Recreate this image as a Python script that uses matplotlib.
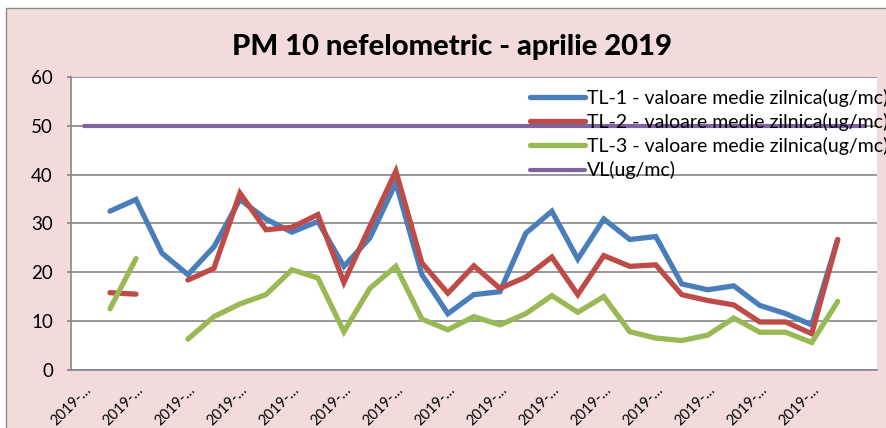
"""PM 10 nefelometric - aprilie 2019: daily means for three stations vs. limit value."""

import matplotlib

matplotlib.use("Agg")
import matplotlib.pyplot as plt
import numpy as np
from matplotlib.patches import Rectangle

nan = np.nan

# 31 categories, Excel shows every other label truncated to "2019-…"
categories = ["2019-…"] * 31
tick_positions = [0, 2, 4, 6, 8, 10, 12, 14, 16, 18, 20, 22, 24, 26, 28]

tl1 = [nan, 32.5, 34.9, 23.9, 19.5, 25.2, 34.9, 30.9, 28.2, 30.4, 21.2, 27.0, 38.3, 19.5, 11.5,
       15.4, 16.0, 28.0, 32.5, 22.7, 30.9, 26.7, 27.3, 17.6, 16.4, 17.2, 13.2, 11.5, 9.2, 26.7, nan]
tl2 = [nan, 15.8, 15.5, nan, 18.4, 20.8, 36.2, 28.7, 29.2, 31.8, 17.9, 29.4, 40.7, 21.9, 15.7,
       21.3, 16.7, 19.0, 23.1, 15.4, 23.4, 21.2, 21.5, 15.4, 14.2, 13.3, 9.8, 9.8, 7.4, 26.7, nan]
tl3 = [nan, 12.5, 22.8, nan, 6.3, 10.9, 13.5, 15.4, 20.5, 18.8, 7.8, 16.7, 21.2, 10.4, 8.2,
       10.9, 9.2, 11.5, 15.2, 11.8, 15.0, 7.8, 6.5, 6.0, 7.1, 10.6, 7.7, 7.7, 5.6, 14.0, nan]
vl = [50, 50, 50, 50, 50, 50, 50, 50, 50, 50, 50, 50, 50, 50, 50, 50,
      50, 50, 50, 50, 50, 50, 50, 50, 50, 50, 50, 50, 50, 50, 50]

series = [
    ("TL-1 - valoare medie zilnica(ug/mc)", tl1, "#4A7EBB", 3.8),
    ("TL-2 - valoare medie zilnica(ug/mc)", tl2, "#BE4B48", 3.8),
    ("TL-3 - valoare medie zilnica(ug/mc)", tl3, "#98B954", 3.8),
    ("VL(ug/mc)", vl, "#7F63A1", 3.0),
]

plt.rcParams["font.family"] = ["Lato", "DejaVu Sans"]

W, H = 887, 428
fig = plt.figure(figsize=(W / 100, H / 100), dpi=100, facecolor="white")
background = Rectangle((6 / W, -0.01), 1.0, 1 - 8 / H + 0.01, transform=fig.transFigure,
                       facecolor="#F2DCDB", edgecolor="#8C8C8C", linewidth=1.0, zorder=-10)
fig.patches.append(background)

ax = fig.add_axes([71 / W, (H - 369.8) / H, (876.7 - 71) / W, (369.8 - 77) / H])
ax.set_facecolor("white")

x = np.arange(len(categories))
for label, values, color, width in series:
    ax.plot(x, values, color=color, linewidth=width, solid_capstyle="round",
            solid_joinstyle="miter", label=label)

ax.set_xlim(-0.5, len(categories) - 0.5)
ax.set_ylim(0, 60)
ax.set_yticks([0, 10, 20, 30, 40, 50, 60])
ax.grid(axis="y", color="#868686", linewidth=1.2)
ax.set_axisbelow(True)

for side in ("top", "right"):
    ax.spines[side].set_visible(False)
for side in ("left", "bottom"):
    ax.spines[side].set_color("#868686")
    ax.spines[side].set_linewidth(1.2)

ax.tick_params(axis="y", length=3, width=1.2, color="#868686", pad=10, labelsize=13.5)
ax.tick_params(axis="x", length=0, pad=9, labelsize=10.5)
ax.set_xticks(tick_positions)
ax.set_xticklabels([categories[i] for i in tick_positions], rotation=45, ha="right",
                   rotation_mode="anchor")

fig.text(452 / W, 1 - 47 / H, "PM 10 nefelometric - aprilie 2019", ha="center", va="center",
         fontsize=21, fontweight="black")

# legend overlaps the plot and runs past the right edge, as in the original
ax.legend(loc="upper left", bbox_to_anchor=(530 / W, 1 - 89 / H), bbox_transform=fig.transFigure,
          frameon=False, fontsize=14, handlelength=2.85, handletextpad=0.1, labelspacing=0.31,
          borderpad=0, borderaxespad=0)

fig.savefig("out.png", dpi=100, facecolor=fig.get_facecolor())
